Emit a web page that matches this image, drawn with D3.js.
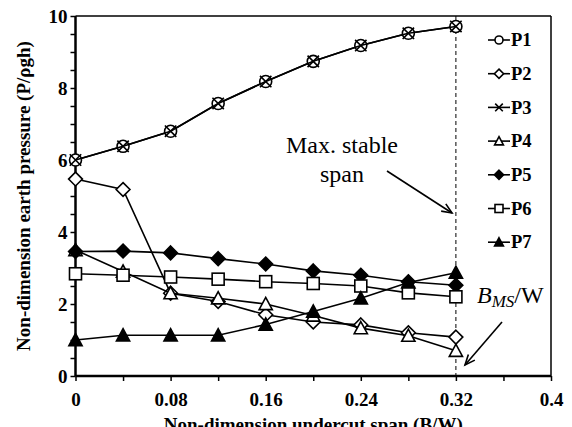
<!DOCTYPE html>
<html><head><meta charset="utf-8">
<script src="https://cdn.jsdelivr.net/npm/d3@7"></script>
<style>body{margin:0;background:#fff}svg{display:block}</style>
</head><body>
<svg id="c" width="572" height="427"></svg>
<script>
const spans = [0, 0.04, 0.08, 0.12, 0.16, 0.20, 0.24, 0.28, 0.32];
const P1 = [6.0, 6.38, 6.8, 7.57, 8.18, 8.74, 9.18, 9.52, 9.71];
const P2 = [5.47, 5.18, 2.3, 2.07, 1.7, 1.5, 1.42, 1.2, 1.08];
const P3 = [6.0, 6.38, 6.8, 7.57, 8.18, 8.74, 9.18, 9.52, 9.71];
const P4 = [3.5, 2.9, 2.3, 2.16, 2.0, 1.68, 1.33, 1.12, 0.7];
const P5 = [3.46, 3.47, 3.42, 3.26, 3.11, 2.92, 2.8, 2.62, 2.52];
const P6 = [2.84, 2.8, 2.75, 2.69, 2.62, 2.57, 2.5, 2.31, 2.2];
const P7 = [1.0, 1.13, 1.13, 1.13, 1.43, 1.79, 2.16, 2.6, 2.87];
const seriesNames = ["P1","P2","P3","P4","P5","P6","P7"];
const seriesVals = [P1,P2,P3,P4,P5,P6,P7];
const markers = ["circle","diamond","x","triangle","diamondFill","square","triangleFill"];
const xTicks = [0, 0.08, 0.16, 0.24, 0.32, 0.4];
const xTickLabels = ["0","0.08","0.16","0.24","0.32","0.4"];
const yTicks = [0, 2, 4, 6, 8, 10];
const maxStable = 0.32;

const svg = d3.select("#c");
const L = 75.5, R = 551, T = 16, B = 376;
const x = d3.scaleLinear().domain([0, 0.4]).range([L, R]);
const y = d3.scaleLinear().domain([0, 10]).range([B, T]);
const serif = "'Liberation Serif','Times New Roman',serif";

// frame top/right
svg.append("line").attr("x1", L).attr("x2", R).attr("y1", T).attr("y2", T).attr("stroke","#000").attr("stroke-width",1.5);
svg.append("line").attr("x1", R).attr("x2", R).attr("y1", T).attr("y2", B).attr("stroke","#000").attr("stroke-width",1.5);

// axes
const xAxis = d3.axisBottom(x).tickValues(d3.range(0, 0.4001, 0.04)).tickSize(5)
  .tickFormat(d => { const i = xTicks.findIndex(t => Math.abs(t - d) < 1e-6); return i >= 0 ? xTickLabels[i] : ""; });
const gx = svg.append("g").attr("transform", `translate(0,${B})`).call(xAxis);
const yAxis = d3.axisLeft(y).tickValues(d3.range(0, 10.001, 0.5)).tickSize(5)
  .tickFormat(d => yTicks.some(t => Math.abs(t - d) < 1e-6) ? d3.format("d")(d) : "");
const gy = svg.append("g").attr("transform", `translate(${L},0)`).call(yAxis);
[gx, gy].forEach(g => {
  g.select(".domain").attr("stroke","#000").attr("stroke-width",2.5);
  g.selectAll(".tick line").attr("stroke","#000").attr("stroke-width",1.5);
  g.selectAll("text").attr("font-family", serif).attr("font-weight","bold").attr("font-size",19).attr("fill","#000");
});
gx.selectAll(".tick text").attr("dy", "0.71em").attr("y", 17);
gy.selectAll(".tick text").attr("x", -8).attr("dy","0.34em");
gx.select(".domain").attr("d", `M${L},0H${R}`);
gy.select(".domain").attr("d", `M0,${B}V${T}`);

// axis titles
svg.append("text").attr("x", (L+R)/2).attr("y", 431).attr("text-anchor","middle")
  .attr("font-family", serif).attr("font-weight","bold").attr("font-size",19)
  .text("Non-dimension undercut span (B/W)");
svg.append("text").attr("transform", `translate(30,${(T+B)/2}) rotate(-90)`).attr("text-anchor","middle")
  .attr("font-family", serif).attr("font-weight","bold").attr("font-size",19)
  .text("Non-dimension earth pressure (P/ρgh)");

// dashed max-stable line
svg.append("line").attr("x1", x(maxStable)).attr("x2", x(maxStable)).attr("y1", T).attr("y2", B)
  .attr("stroke","#000").attr("stroke-width",1).attr("stroke-dasharray","4,3");

// marker drawing
function drawMarker(g, type, cx, cy, s) {
  const h = s/2;
  if (type === "circle") {
    g.append("circle").attr("cx",cx).attr("cy",cy).attr("r",h).attr("fill","#fff").attr("stroke","#000").attr("stroke-width",1.6);
  } else if (type === "diamond" || type === "diamondFill") {
    const d = h*1.15;
    g.append("path").attr("d",`M${cx},${cy-d}L${cx+d},${cy}L${cx},${cy+d}L${cx-d},${cy}Z`)
      .attr("fill", type === "diamond" ? "#fff" : "#000").attr("stroke","#000").attr("stroke-width",1.6);
  } else if (type === "square") {
    g.append("rect").attr("x",cx-h).attr("y",cy-h).attr("width",s).attr("height",s)
      .attr("fill","#fff").attr("stroke","#000").attr("stroke-width",1.6);
  } else if (type === "triangle" || type === "triangleFill") {
    const w = h*1.1;
    g.append("path").attr("d",`M${cx},${cy-w}L${cx+w},${cy+w*0.85}L${cx-w},${cy+w*0.85}Z`)
      .attr("fill", type === "triangle" ? "#fff" : "#000").attr("stroke","#000").attr("stroke-width",1.6);
  } else if (type === "x") {
    const d = h*0.95;
    g.append("path").attr("d",`M${cx-d},${cy-d}L${cx+d},${cy+d}M${cx-d},${cy+d}L${cx+d},${cy-d}`)
      .attr("stroke","#000").attr("stroke-width",1.6).attr("fill","none");
  }
}

const line = d3.line().x((d,i) => x(spans[i])).y(d => y(d));
seriesVals.forEach((vals, k) => {
  const g = svg.append("g");
  g.append("path").attr("d", line(vals)).attr("fill","none").attr("stroke","#000").attr("stroke-width",1.6);
  vals.forEach((v,i) => drawMarker(g, markers[k], x(spans[i]), y(v), 12));
});

// legend
seriesNames.forEach((n,k) => {
  const ly = 40 + k*33.7;
  const g = svg.append("g");
  g.append("line").attr("x1",488).attr("x2",510).attr("y1",ly).attr("y2",ly).attr("stroke","#000").attr("stroke-width",1.6);
  drawMarker(g, markers[k], 499, ly, 8);
  g.append("text").attr("x",511).attr("y",ly).attr("dy","0.34em").attr("font-family",serif)
    .attr("font-weight","bold").attr("font-size",18.5).text(n);
});

// annotations
svg.append("text").attr("x",342).attr("y",153).attr("text-anchor","middle").attr("font-family",serif).attr("font-size",24).text("Max. stable");
svg.append("text").attr("x",342).attr("y",182).attr("text-anchor","middle").attr("font-family",serif).attr("font-size",24).text("span");
const bt = svg.append("text").attr("x",477).attr("y",303).attr("font-family",serif).attr("font-size",24);
bt.append("tspan").attr("font-style","italic").text("B");
bt.append("tspan").attr("font-style","italic").attr("font-size",17).attr("dy",4).text("MS");
bt.append("tspan").attr("dy",-4).text("/W");

function arrow(x1,y1,x2,y2){
  svg.append("line").attr("x1",x1).attr("y1",y1).attr("x2",x2).attr("y2",y2).attr("stroke","#000").attr("stroke-width",1.6);
  const a = Math.atan2(y2-y1, x2-x1), len = 11, sp = 0.4;
  const p1 = [x2 - len*Math.cos(a-sp), y2 - len*Math.sin(a-sp)];
  const p2 = [x2 - len*Math.cos(a+sp), y2 - len*Math.sin(a+sp)];
  svg.append("path").attr("d",`M${p1}L${x2},${y2}L${p2}`).attr("fill","none").attr("stroke","#000").attr("stroke-width",1.6);
}
arrow(387,171,452,213);
arrow(502,322,465,365);
</script>
</body></html>
